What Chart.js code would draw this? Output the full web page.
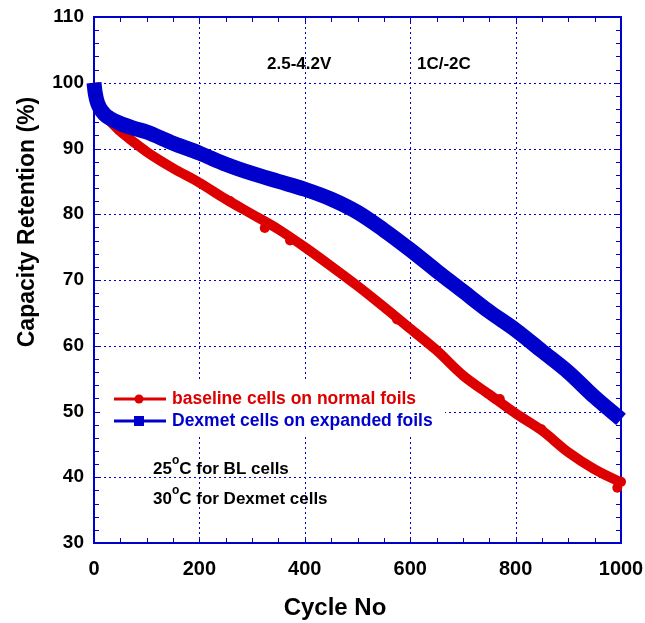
<!DOCTYPE html>
<html>
<head>
<meta charset="utf-8">
<script src="https://cdn.jsdelivr.net/npm/chart.js@4.4.0/dist/chart.umd.min.js"></script>
<style>
  html, body { margin: 0; padding: 0; background: #fff; }
  #grafico { display: block; }
</style>
</head>
<body>
<canvas id="grafico" width="645" height="623"></canvas>
<script>
// dados
const ciclos = [0, 2, 5, 10, 20, 30, 50, 75, 100, 150, 200, 250, 300, 350, 400, 450, 500, 550, 600, 650, 700, 750, 800, 850, 900, 950, 1000];
const baseline = [100, 98.6, 97.4, 96.2, 95.0, 94.2, 92.6, 91.0, 89.5, 87.0, 84.8, 82.3, 80.0, 77.7, 75.0, 72.1, 69.1, 65.9, 62.6, 59.3, 55.5, 52.6, 49.7, 47.1, 43.8, 41.2, 39.2];
const dexmet = [100, 98.6, 97.4, 96.3, 95.2, 94.6, 93.8, 93.1, 92.5, 90.8, 89.3, 87.6, 86.2, 85.0, 83.8, 82.3, 80.3, 77.6, 74.6, 71.4, 68.3, 65.2, 62.4, 59.2, 56.0, 52.2, 48.8];
// pontos soltos (marcadores visíveis na curva vermelha)
const marcasCiclo = [258, 324, 372, 575, 770, 849, 993, 1000];
const marcasValor = [82.0, 77.9, 76.0, 64.0, 51.9, 47.3, 38.4, 39.3];

const xTicks = [0, 200, 400, 600, 800, 1000];
const yTicks = [30, 40, 50, 60, 70, 80, 90, 100, 110];

const vermelho = "#dd0000";
const azul = "#0000cc";
const fonte = "'Liberation Sans', Arial, sans-serif";

const pontos = (xs, ys) => xs.map((x, i) => ({ x: x, y: ys[i] }));

// moldura, grade pontilhada e marcas menores
const moldura = {
  id: "moldura",
  beforeDatasetsDraw(chart) {
    const { ctx, chartArea: a, scales } = chart;
    const sx = scales.x, sy = scales.y;
    ctx.save();
    ctx.strokeStyle = azul;
    ctx.lineWidth = 1;
    ctx.setLineDash([2, 3]);
    xTicks.slice(1, -1).forEach(v => {
      const px = Math.round(sx.getPixelForValue(v)) + 0.5;
      ctx.beginPath(); ctx.moveTo(px, a.top); ctx.lineTo(px, a.bottom); ctx.stroke();
    });
    yTicks.slice(1, -1).forEach(v => {
      const py = Math.round(sy.getPixelForValue(v)) + 0.5;
      ctx.beginPath(); ctx.moveTo(a.left, py); ctx.lineTo(a.right, py); ctx.stroke();
    });
    ctx.setLineDash([]);
    // marcas menores
    for (let v = 50; v < 1000; v += 50) {
      const px = Math.round(sx.getPixelForValue(v)) + 0.5;
      ctx.beginPath();
      ctx.moveTo(px, a.bottom); ctx.lineTo(px, a.bottom - 5);
      ctx.moveTo(px, a.top); ctx.lineTo(px, a.top + 5);
      ctx.stroke();
    }
    for (let v = 32; v < 110; v += 2) {
      const py = Math.round(sy.getPixelForValue(v)) + 0.5;
      ctx.beginPath();
      ctx.moveTo(a.left, py); ctx.lineTo(a.left + 5, py);
      ctx.moveTo(a.right, py); ctx.lineTo(a.right - 5, py);
      ctx.stroke();
    }
    ctx.lineWidth = 2;
    ctx.strokeRect(a.left, a.top, a.right - a.left, a.bottom - a.top);
    ctx.restore();
  },
  afterDatasetsDraw(chart) {
    const { ctx } = chart;
    ctx.save();
    // legenda
    ctx.fillStyle = "#fff";
    ctx.fillRect(100, 379, 345, 58);
    const itens = [
      { y: 399, cor: vermelho, texto: "baseline cells on normal foils", forma: "circulo" },
      { y: 421, cor: azul, texto: "Dexmet cells on expanded foils", forma: "quadrado" }
    ];
    itens.forEach(it => {
      ctx.strokeStyle = it.cor;
      ctx.fillStyle = it.cor;
      ctx.lineWidth = 3;
      ctx.beginPath(); ctx.moveTo(114, it.y); ctx.lineTo(166, it.y); ctx.stroke();
      if (it.forma === "circulo") {
        ctx.beginPath(); ctx.arc(139, it.y, 4.5, 0, Math.PI * 2); ctx.fill();
      } else {
        ctx.fillRect(134, it.y - 5, 10, 10);
      }
      ctx.font = "bold 17.5px " + fonte;
      ctx.textBaseline = "middle";
      ctx.textAlign = "left";
      ctx.fillText(it.texto, 172, it.y);
    });

    // anotações
    ctx.fillStyle = "#000";
    ctx.font = "bold 17px " + fonte;
    ctx.fillText("2.5-4.2V", 267, 64);
    ctx.fillText("1C/-2C", 417, 64);
    const temp = (num, resto, x, y) => {
      ctx.font = "bold 17px " + fonte;
      ctx.fillText(num, x, y);
      let w = ctx.measureText(num).width;
      ctx.font = "bold 12px " + fonte;
      ctx.fillText("o", x + w, y - 8);
      w += ctx.measureText("o").width;
      ctx.font = "bold 17px " + fonte;
      ctx.fillText(resto, x + w, y);
    };
    temp("25", "C for BL cells", 153, 469);
    temp("30", "C for Dexmet cells", 153, 499);

    // títulos dos eixos
    ctx.font = "bold 24px " + fonte;
    ctx.textAlign = "center";
    ctx.fillText("Cycle No", 335, 608);
    ctx.translate(28, 222);
    ctx.rotate(-Math.PI / 2);
    ctx.font = "bold 23px " + fonte;
    ctx.fillText("Capacity Retention (%)", 0, 0);
    ctx.restore();
  }
};

new Chart(document.getElementById("grafico"), {
  type: "line",
  data: {
    datasets: [
      {
        label: "Dexmet cells on expanded foils",
        data: pontos(ciclos, dexmet),
        borderColor: azul,
        borderWidth: 15,
        pointRadius: 0,
        cubicInterpolationMode: "monotone",
        clip: 9,
        order: 1
      },
      {
        label: "baseline cells on normal foils",
        data: pontos(ciclos, baseline),
        borderColor: vermelho,
        borderWidth: 10,
        pointRadius: 0,
        cubicInterpolationMode: "monotone",
        clip: 9,
        order: 2
      },
      {
        label: "marcas",
        data: pontos(marcasCiclo, marcasValor),
        showLine: false,
        pointRadius: 5,
        pointBackgroundColor: vermelho,
        pointBorderWidth: 0,
        clip: 9,
        order: 3
      }
    ]
  },
  options: {
    responsive: false,
    animation: false,
    devicePixelRatio: 1,
    layout: { padding: { left: 0, right: 24, top: 17, bottom: 0 } },
    plugins: {
      legend: { display: false },
      tooltip: { enabled: false }
    },
    scales: {
      x: {
        type: "linear",
        min: 0,
        max: 1000,
        afterFit: s => { s.height = 80; s.paddingLeft = 0; s.paddingRight = 0; },
        afterBuildTicks: s => { s.ticks = xTicks.map(v => ({ value: v })); },
        ticks: {
          color: "#000",
          padding: 14,
          maxRotation: 0,
          callback: v => String(v),
          font: { family: fonte, size: 20, weight: "bold" }
        },
        grid: { display: false, drawTicks: false },
        border: { display: false }
      },
      y: {
        min: 30,
        max: 110,
        afterFit: s => { s.width = 94; s.paddingTop = 0; s.paddingBottom = 0; },
        afterBuildTicks: s => { s.ticks = yTicks.map(v => ({ value: v })); },
        ticks: {
          color: "#000",
          padding: 10,
          font: { family: fonte, size: 19, weight: "bold" }
        },
        grid: { display: false, drawTicks: false },
        border: { display: false }
      }
    }
  },
  plugins: [moldura]
});
</script>
</body>
</html>
